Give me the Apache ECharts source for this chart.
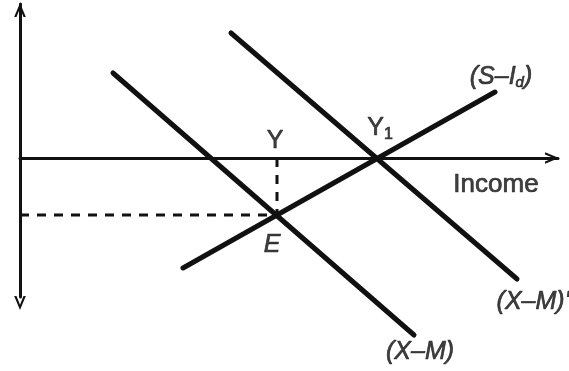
<!DOCTYPE html>
<html>
<head>
<meta charset="utf-8">
<script src="https://cdn.jsdelivr.net/npm/echarts@6/dist/echarts.min.js"></script>
<style>
  html, body { margin: 0; padding: 0; background: #fff; }
  #chart { width: 569px; height: 371px; }
</style>
</head>
<body>
<div id="chart"></div>
<script>
// curves (income on x, balance on y; origin where the axes cross)
const xmLine = [[93, 85], [394, -177]];          // (X-M)
const xmShiftLine = [[211, 125], [497, -121]];   // (X-M)'
const sidLine = [[163, -110], [475, 66]];        // (S-Id)
const pointE = [257, -57];

// guides to E
const guideH = [[0, pointE[1]], pointE];
const guideV = [[pointE[0], 0], pointE];

// text labels
const labelText = ["{u|Y}", "{u|Y}{s|1}", "{i|E}", "{i|(S–I}{is|d}{i|)}", "{r|Income}", "{i|(X–M)'}", "{i|(X–M)}"];
const labelPos = [[255, 17], [360, 30], [252, -87], [481, 81], [476, -27], [513, -144], [400, -194]];

const INK = "#111";
const caret = "path://M0,12 L5,0 L10,12 L8,12 L5,4.5 L2,12 Z";

const chart = echarts.init(document.getElementById("chart"));

function thickLine(data) {
  return {
    type: "line",
    data: data,
    symbol: "none",
    clip: false,
    silent: true,
    lineStyle: { color: INK, width: 5, cap: "round" }
  };
}

function dashLine(data) {
  return {
    type: "line",
    data: data,
    symbol: "none",
    clip: false,
    silent: true,
    lineStyle: { color: INK, width: 3, type: [9, 8] }
  };
}

// shared text look
function txt(size, italic) {
  return {
    fontFamily: "Liberation Sans",
    fontStyle: italic ? "italic" : "normal",
    fontSize: size,
    color: INK,
    textBorderColor: INK,
    textBorderWidth: 0.7
  };
}

chart.setOption({
  animation: false,
  grid: { left: 20, right: 11, top: 4, bottom: 74 },
  xAxis: {
    type: "value",
    min: 0,
    max: 538,
    axisLine: {
      onZero: true,
      symbol: ["none", caret],
      symbolSize: [12, 14],
      symbolOffset: [0, -6],
      lineStyle: { color: INK, width: 3 }
    },
    axisTick: { show: false },
    axisLabel: { show: false },
    splitLine: { show: false }
  },
  yAxis: {
    type: "value",
    min: -139,
    max: 154,
    axisLine: {
      show: true,
      onZero: true,
      symbol: [caret, caret],
      symbolSize: [12, 14],
      symbolOffset: [-6, -6],
      lineStyle: { color: INK, width: 3 }
    },
    axisTick: { show: false },
    axisLabel: { show: false },
    splitLine: { show: false }
  },
  series: [
    thickLine(xmLine),
    thickLine(xmShiftLine),
    thickLine(sidLine),
    dashLine(guideH),
    dashLine(guideV),
    {
      type: "scatter",
      symbolSize: 0,
      clip: false,
      silent: true,
      data: labelPos.map((p, i) => ({ value: p, text: labelText[i] })),
      label: {
        show: true,
        position: "inside",
        formatter: (p) => p.data.text,
        color: INK,
        rich: {
          u: txt(25, false),
          r: txt(26, false),
          i: txt(25, true),
          s: Object.assign(txt(16, false), { padding: [14, 0, 0, 0] }),
          is: Object.assign(txt(15, true), { padding: [11, 0, 0, 0] })
        }
      }
    }
  ]
});
</script>
</body>
</html>
